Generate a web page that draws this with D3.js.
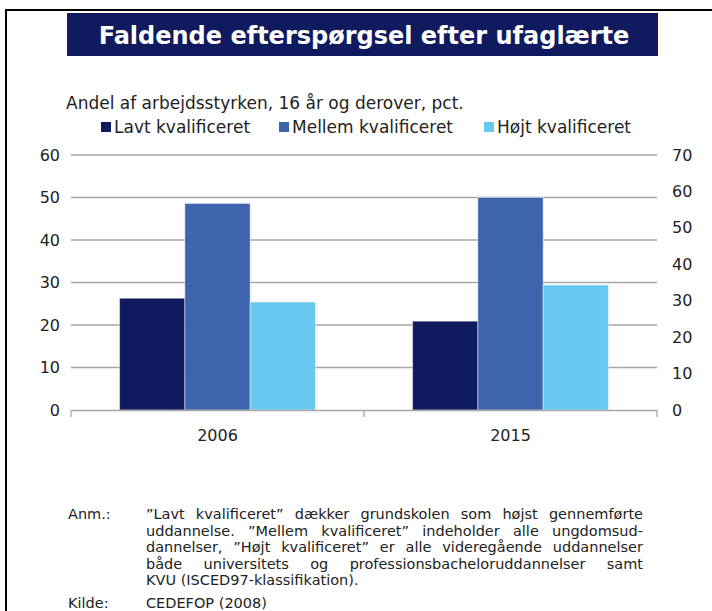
<!DOCTYPE html>
<html>
<head>
<meta charset="utf-8">
<script src="https://cdn.jsdelivr.net/npm/d3@7"></script>
<style>
  body { margin: 0; background: #fff; }
  svg { display: block; }
</style>
</head>
<body>
<div id="chart"></div>
<script>
// data
var years = ["2006", "2015"];
var seriesNames = ["Lavt kvalificeret", "Mellem kvalificeret", "Højt kvalificeret"];
var lavt = [26.3, 20.9];
var mellem = [48.6, 50.0];
var hoejt = [25.4, 29.4];
var leftTicks = [0, 10, 20, 30, 40, 50, 60];
var rightTicks = [0, 10, 20, 30, 40, 50, 60, 70];
var noteLines = [
    "”Lavt kvalificeret” dækker grundskolen som højst gennemførte",
    "uddannelse. ”Mellem kvalificeret” indeholder alle ungdomsud-",
    "dannelser, ”Højt kvalificeret” er alle videregående uddannelser",
    "både universitets og professionsbacheloruddannelser samt",
    "KVU (ISCED97-klassifikation)."
];

var width = 712, height = 611;
var colors = ["#101a5e", "#3e64ae", "#67c8f0"];
var font = "DejaVu Sans";

var svg = d3.select("#chart")
    .append("svg")
    .attr("width", width)
    .attr("height", height);

// frame
svg.append("line").attr("x1", 6).attr("x2", 6).attr("y1", 9).attr("y2", height)
    .attr("stroke", "#000").attr("stroke-width", 2);
svg.append("line").attr("x1", 5).attr("x2", width).attr("y1", 10).attr("y2", 10)
    .attr("stroke", "#000").attr("stroke-width", 2);

// title
svg.append("rect").attr("x", 67).attr("y", 13).attr("width", 591).attr("height", 43)
    .attr("fill", "#101a5e");
svg.append("text").attr("x", 364).attr("y", 44)
    .attr("text-anchor", "middle")
    .style("font-family", font).style("font-weight", "bold").style("font-size", "24px")
    .attr("fill", "#fff")
    .text("Faldende efterspørgsel efter ufaglærte");

svg.append("text").attr("x", 66).attr("y", 109)
    .style("font-family", font).style("font-size", "17px").attr("fill", "#222")
    .text("Andel af arbejdsstyrken, 16 år og derover, pct.");

// legend
var legendX = [101, 279, 484];
var legend = svg.selectAll(".leg").data(seriesNames).enter().append("g")
    .attr("transform", function (d, i) { return "translate(" + legendX[i] + ",122)"; });
legend.append("rect").attr("width", 10).attr("height", 10)
    .attr("fill", function (d, i) { return colors[i]; });
legend.append("text").attr("x", 13).attr("y", 11)
    .style("font-family", font).style("font-size", "17px").attr("fill", "#222")
    .text(function (d) { return d; });

// scales
var x = d3.scaleBand().domain(years).range([71, 657]);
var xs = d3.scaleBand().domain(seriesNames).range([0, x.bandwidth()]).paddingOuter(0.744);
var yL = d3.scaleLinear().domain([0, 60]).range([410, 155]);
var yR = d3.scaleLinear().domain([0, 70]).range([410, 155]);

// grid
svg.append("g").selectAll("line").data(leftTicks.slice(1)).enter().append("line")
    .attr("x1", 71).attr("x2", 657)
    .attr("y1", function (d) { return yL(d); }).attr("y2", function (d) { return yL(d); })
    .attr("stroke", "#a6a6a6").attr("stroke-width", 1.3);

// bars
var allSeries = [lavt, mellem, hoejt];
var rows = [];
years.forEach(function (yr, j) {
    seriesNames.forEach(function (s, i) {
        rows.push({ year: yr, series: s, i: i, value: allSeries[i][j] });
    });
});
svg.append("g").selectAll("rect").data(rows).enter().append("rect")
    .attr("x", function (d) { return x(d.year) + xs(d.series); })
    .attr("width", xs.bandwidth())
    .attr("y", function (d) { return yL(d.value); })
    .attr("height", function (d) { return yL(0) - yL(d.value); })
    .attr("fill", function (d) { return colors[d.i]; })
    .attr("stroke", "rgba(255,255,255,0.45)").attr("stroke-width", 1);

// x axis
var xAxis = d3.axisBottom(x).tickSize(0).tickPadding(20);
var gx = svg.append("g").attr("transform", "translate(0,410)").call(xAxis);
gx.select(".domain").attr("stroke", "#a6a6a6").attr("stroke-width", 1.3);
gx.selectAll("text").style("font-family", font).style("font-size", "16px").attr("fill", "#222");
var sep = [71, 364, 657];
gx.selectAll(".sep").data(sep).enter().append("line")
    .attr("x1", function (d) { return d; }).attr("x2", function (d) { return d; })
    .attr("y1", 0).attr("y2", 7)
    .attr("stroke", "#a6a6a6").attr("stroke-width", 1.3);

// y axes
var gl = svg.append("g").attr("transform", "translate(71,0)")
    .call(d3.axisLeft(yL).tickValues(leftTicks).tickSize(0).tickPadding(11));
gl.select(".domain").remove();
gl.selectAll("text").style("font-family", font).style("font-size", "16px").attr("fill", "#222");

var gr = svg.append("g").attr("transform", "translate(657,0)")
    .call(d3.axisRight(yR).tickValues(rightTicks).tickSize(0).tickPadding(15));
gr.select(".domain").remove();
gr.selectAll("text").style("font-family", font).style("font-size", "16px").attr("fill", "#222");

// note
function styled(sel) {
    return sel.style("font-family", font).style("font-size", "14.5px").attr("fill", "#222");
}
var noteLeft = 146, noteRight = 643, lineH = 16.5, noteTop = 519;
styled(svg.append("text").attr("x", 68).attr("y", noteTop)).text("Anm.:");
noteLines.forEach(function (line, li) {
    var words = line.split(" ");
    var yy = noteTop + li * lineH;
    var g = svg.append("g");
    var nodes = words.map(function (w) {
        return styled(g.append("text").attr("y", yy)).text(w);
    });
    var widths = nodes.map(function (n) { return n.node().getComputedTextLength(); });
    var total = d3.sum(widths);
    var justify = li < noteLines.length - 1;
    var space = justify ? (noteRight - noteLeft - total) / (words.length - 1) : 4.6;
    var cx = noteLeft;
    nodes.forEach(function (n, k) {
        n.attr("x", cx);
        cx += widths[k] + space;
    });
});
styled(svg.append("text").attr("x", 68).attr("y", 608)).text("Kilde:");
styled(svg.append("text").attr("x", noteLeft).attr("y", 608)).text("CEDEFOP (2008)");
</script>
</body>
</html>
